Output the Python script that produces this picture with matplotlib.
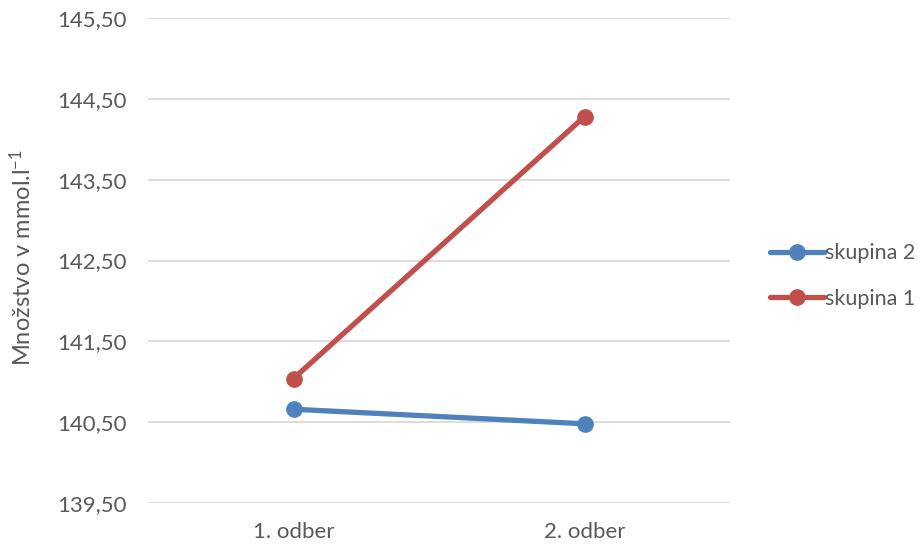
import numpy as np
import matplotlib.pyplot as plt

plt.rcParams['font.family'] = ['Lato', 'DejaVu Sans']
plt.rcParams['mathtext.default'] = 'regular'

# Namerané hodnoty
odbery = ['1. odber', '2. odber']
skupina_2 = [140.66, 140.48]
skupina_1 = [141.04, 144.28]

y_ticks = np.arange(139.5, 145.51, 1.0)

text_col = '#595959'

fig = plt.figure(figsize=(9.23, 5.46), dpi=100)
ax = fig.add_axes([148 / 923, 1 - 503 / 546, 582 / 923, 485 / 546])

x = np.arange(len(odbery))
ax.plot(x, skupina_2, '-o', color='#4F81BD', linewidth=3.8, markersize=11,
        label='skupina 2', solid_capstyle='round')
ax.plot(x, skupina_1, '-o', color='#C0504D', linewidth=3.8, markersize=11,
        label='skupina 1', solid_capstyle='round')

ax.set_xlim(-0.5, len(odbery) - 0.5)
ax.set_ylim(139.5, 145.5)
ax.set_yticks(y_ticks)
ax.set_yticklabels([f'{v:.2f}'.replace('.', ',') for v in y_ticks])
ax.set_xticks(x)
ax.set_xticklabels(odbery)

ax.grid(axis='y', color='#D9D9D9', linewidth=1.3)
ax.set_axisbelow(True)
for s in ax.spines.values():
    s.set_visible(False)
ax.tick_params(length=0, labelsize=16, colors=text_col)
ax.tick_params(axis='y', pad=15)
ax.tick_params(axis='x', pad=14)

fig.text(22 / 923, 1 - 258 / 546, 'Množstvo v mmol.l$^{-1}$', rotation=90,
         ha='center', va='center', fontsize=17, color=text_col)

leg = fig.legend(loc='center left', bbox_to_anchor=(766 / 923, 1 - 276 / 546),
                 frameon=False, fontsize=15.5, handlelength=2.5,
                 handletextpad=0.05, labelspacing=1.2, labelcolor=text_col,
                 borderpad=0.2, borderaxespad=0)

fig.savefig('out.png', dpi=100)
